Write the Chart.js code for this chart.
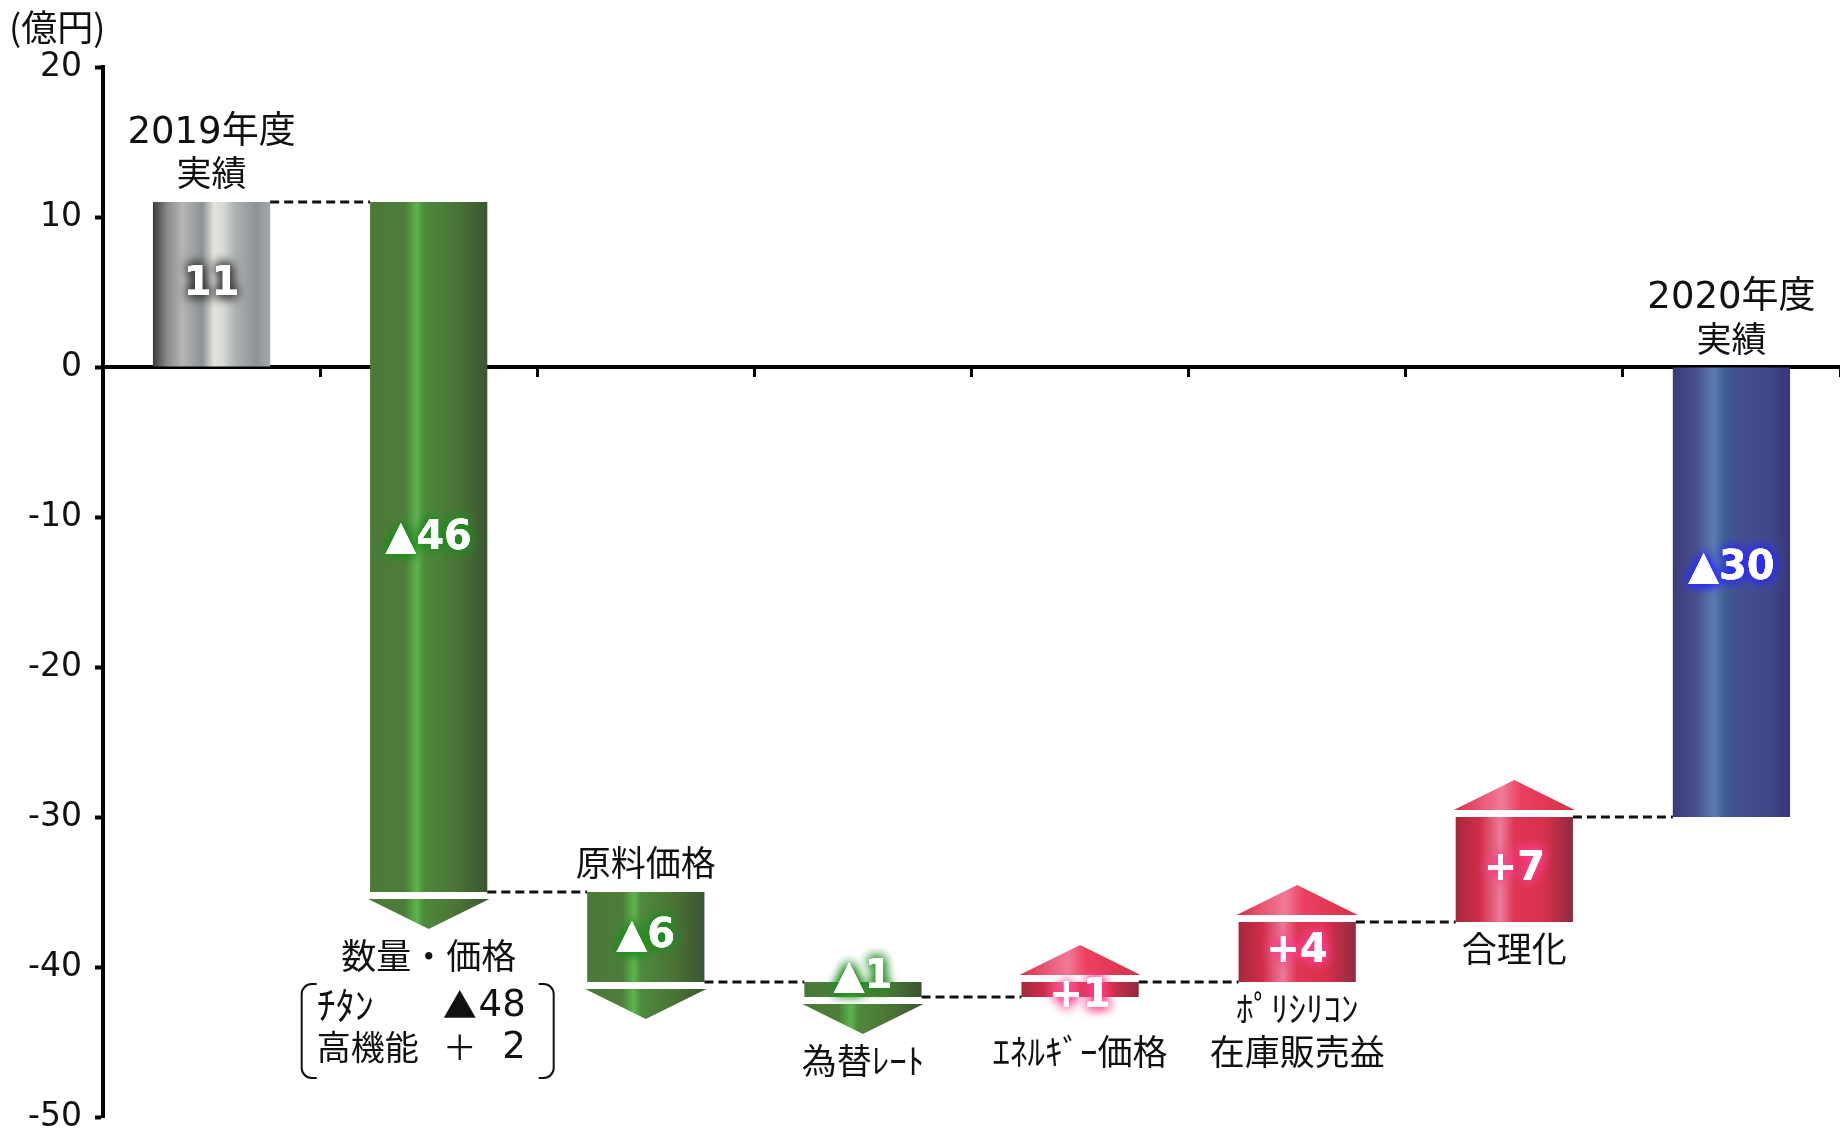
<!DOCTYPE html>
<html lang="ja">
<head>
<meta charset="utf-8">
<title>営業利益 増減要因</title>
<script src="https://cdn.jsdelivr.net/npm/chart.js@4.4.1/dist/chart.umd.min.js"></script>
<style>
  html, body { margin: 0; padding: 0; background: #fff; }
  #wrap { width: 1840px; height: 1129px; position: relative; }
</style>
</head>
<body>
<div id="wrap"><canvas id="grafico"></canvas></div>
<script>
// datos (億円)
const unitLabel = '(億円)';
const categories = [
  ['2019年度', '実績'],
  ['数量・価格'],
  ['原料価格'],
  ['為替ﾚｰﾄ'],
  ['ｴﾈﾙｷﾞｰ価格'],
  ['ﾎﾟﾘｼﾘｺﾝ', '在庫販売益'],
  ['合理化'],
  ['2020年度', '実績']
];
const changes = [11, -46, -6, -1, 1, 4, 7, -30];
const isTotal = [true, false, false, false, false, false, false, true];
const breakdownNames = ['ﾁﾀﾝ', '高機能'];
const breakdownValues = [-48, 2];
const yTicks = [20, 10, 0, -10, -20, -30, -40, -50];

// where each category name sits, and which bar carries the breakdown box
const labelSide = ['above', 'below', 'above', 'below', 'below', 'below', 'below', 'above'];
const labelShift = [0, 0, 0, 0, 28, 0, 0, 0];
const valueShift = [0, -8, 0, -12, 7, 0, 0, -24];
const breakdownIndex = 1;

const BAR_PCT = 0.54;
const ARROW_GAP = 7;
const ARROW_H = 30;

// running totals -> floating bars
let running = 0;
const floating = changes.map((v, i) => {
  if (isTotal[i]) { running = v; return [0, v]; }
  const seg = [running, running + v];
  running += v;
  return seg;
});

const stops = {
  gray: [[0, '#3a3a3a'], [0.12, '#8a8a8a'], [0.25, '#b4b5b5'], [0.42, '#8d9194'], [0.52, '#e4e4de'],
         [0.6, '#d8d9d6'], [0.7, '#aeb2b4'], [0.88, '#8e9296'], [1, '#a5a9ac']],
  green: [[0, '#4b7a38'], [0.3, '#4d7d3a'], [0.4, '#5db54c'], [0.46, '#4e8a3c'], [0.75, '#4a7236'], [1, '#3a5530']],
  red: [[0, '#a52a3c'], [0.2, '#d02c48'], [0.38, '#ec7a96'], [0.5, '#e03456'], [0.75, '#d8304a'], [1, '#8e2a40']],
  blue: [[0, '#3c3a7a'], [0.2, '#475088'], [0.35, '#5a7db0'], [0.45, '#3e5c8e'], [0.55, '#455090'], [0.8, '#40488a'], [1, '#393878']],
  redTip: [[0, '#dc2e48'], [0.4, '#f07a98'], [0.55, '#ec4060'], [1, '#d63048']]
};
const flat = { gray: '#a0a3a5', green: '#4b7a38', red: '#d02c48', blue: '#40488a' };
const glow = { gray: '#333', green: '#1e8c1e', red: '#ff3c8c', blue: '#2828ff' };

function barKind(i) {
  if (isTotal[i]) return i === 0 ? 'gray' : 'blue';
  return changes[i] < 0 ? 'green' : 'red';
}

function makeGradient(ctx, left, right, list) {
  const g = ctx.createLinearGradient(left, 0, right, 0);
  list.forEach(([o, c]) => g.addColorStop(o, c));
  return g;
}

function barFill(context) {
  const chart = context.chart;
  const kind = barKind(context.dataIndex);
  const x = chart.scales && chart.scales.x;
  if (!chart.chartArea || !x) return flat[kind];
  const cx = x.getPixelForValue(context.dataIndex);
  const half = x.width / changes.length * BAR_PCT / 2;
  return makeGradient(chart.ctx, cx - half, cx + half, stops[kind]);
}

function formatValue(i) {
  const v = changes[i];
  if (v < 0) return '▲' + Math.abs(v);
  return isTotal[i] ? String(v) : '+' + v;
}

function drawBracket(ctx, x, top, bottom, dir) {
  const r = 10, tail = 5;
  ctx.beginPath();
  ctx.moveTo(x + dir * (r + tail), top);
  ctx.lineTo(x + dir * r, top);
  ctx.arcTo(x, top, x, top + r, r);
  ctx.lineTo(x, bottom - r);
  ctx.arcTo(x, bottom, x + dir * r, bottom, r);
  ctx.lineTo(x + dir * (r + tail), bottom);
  ctx.stroke();
}

const waterfallDecor = {
  id: 'waterfallDecor',
  afterDraw(chart) {
    const ctx = chart.ctx;
    const meta = chart.getDatasetMeta(0);
    const yScale = chart.scales.y;
    ctx.save();

    // unit
    ctx.fillStyle = '#111';
    ctx.font = '36px "Noto Sans CJK JP", sans-serif';
    ctx.textAlign = 'left';
    ctx.textBaseline = 'middle';
    ctx.fillText(unitLabel, 9, 27);

    // dashed connectors
    ctx.strokeStyle = '#111';
    ctx.lineWidth = 3;
    ctx.setLineDash([9, 5]);
    for (let i = 0; i < meta.data.length - 1; i++) {
      const a = meta.data[i], b = meta.data[i + 1];
      const y = yScale.getPixelForValue(floating[i][1]);
      ctx.beginPath();
      ctx.moveTo(a.x + a.width / 2, y);
      ctx.lineTo(b.x - b.width / 2, y);
      ctx.stroke();
    }
    ctx.setLineDash([]);

    // arrow heads
    meta.data.forEach((bar, i) => {
      if (isTotal[i]) return;
      const top = Math.min(bar.y, bar.base), bottom = Math.max(bar.y, bar.base);
      const half = bar.width / 2 + 2;
      const down = changes[i] < 0;
      const baseY = down ? bottom + ARROW_GAP : top - ARROW_GAP;
      const tipY = down ? baseY + ARROW_H : baseY - ARROW_H;
      ctx.fillStyle = makeGradient(ctx, bar.x - half, bar.x + half, down ? stops.green : stops.redTip);
      ctx.beginPath();
      ctx.moveTo(bar.x - half, baseY);
      ctx.lineTo(bar.x + half, baseY);
      ctx.lineTo(bar.x, tipY);
      ctx.closePath();
      ctx.fill();
    });

    // value labels with glow
    ctx.textAlign = 'center';
    ctx.textBaseline = 'middle';
    ctx.font = 'bold 40px "DejaVu Sans", sans-serif';
    meta.data.forEach((bar, i) => {
      const text = formatValue(i);
      const cy = (bar.y + bar.base) / 2 + valueShift[i];
      ctx.fillStyle = '#fff';
      ctx.shadowColor = glow[barKind(i)];
      ctx.shadowBlur = 12;
      for (let k = 0; k < 3; k++) ctx.fillText(text, bar.x, cy);
      ctx.shadowBlur = 0;
      ctx.shadowColor = 'transparent';
      ctx.fillText(text, bar.x, cy);
    });

    // category names
    ctx.fillStyle = '#111';
    meta.data.forEach((bar, i) => {
      const lines = categories[i];
      const lineGap = isTotal[i] ? 40 : 43;
      const top = Math.min(bar.y, bar.base), bottom = Math.max(bar.y, bar.base);
      let y0;
      if (labelSide[i] === 'above') {
        y0 = top - 29 - (lines.length - 1) * lineGap;
      } else {
        const edge = changes[i] < 0 ? bottom + ARROW_GAP + ARROW_H : bottom;
        y0 = edge + 27 + labelShift[i];
      }
      lines.forEach((t, k) => {
        ctx.font = (isTotal[i] && k === 0)
          ? '37px "DejaVu Sans", "Noto Sans CJK JP", sans-serif'
          : '35px "Noto Sans CJK JP", sans-serif';
        ctx.fillText(t, bar.x, y0 + k * lineGap);
      });

      if (i === breakdownIndex) {
        const left = bar.x - 127, right = bar.x + 125;
        const boxTop = y0 + 28, boxBottom = boxTop + 94;
        ctx.lineWidth = 2;
        ctx.strokeStyle = '#111';
        drawBracket(ctx, left, boxTop, boxBottom, 1);
        drawBracket(ctx, right, boxTop, boxBottom, -1);
        breakdownNames.forEach((name, k) => {
          const ry = boxTop + 21 + k * 42;
          const v = breakdownValues[k];
          ctx.textAlign = 'left';
          ctx.font = (k === 0 ? '38px' : '34px') + ' "Noto Sans CJK JP", sans-serif';
          ctx.fillText(name, left + 15, ry);
          ctx.font = '34px "Noto Sans CJK JP", sans-serif';
          ctx.fillText(v < 0 ? '▲' : '＋', bar.x + 14, ry);
          ctx.textAlign = 'right';
          ctx.font = '37px "DejaVu Sans", sans-serif';
          ctx.fillText(String(Math.abs(v)), bar.x + 97, ry + 1);
          ctx.textAlign = 'center';
        });
      }
    });
    ctx.restore();
  }
};

new Chart(document.getElementById('grafico'), {
  type: 'bar',
  data: {
    labels: categories,
    datasets: [{
      data: floating,
      backgroundColor: barFill,
      borderWidth: 0,
      barPercentage: BAR_PCT,
      categoryPercentage: 1
    }]
  },
  options: {
    responsive: true,
    maintainAspectRatio: false,
    animation: false,
    events: [],
    layout: { padding: { top: 67, bottom: 12, left: 0, right: 0 } },
    plugins: { legend: { display: false }, tooltip: { enabled: false } },
    scales: {
      x: {
        position: { y: 0 },
        z: 1,
        grid: { offset: true, drawOnChartArea: false, drawTicks: true, tickLength: 8, tickWidth: 3, tickColor: '#000' },
        border: { display: true, color: '#000', width: 4 },
        ticks: { display: false }
      },
      y: {
        min: Math.min(...yTicks),
        max: Math.max(...yTicks),
        ticks: {
          stepSize: yTicks[0] - yTicks[1],
          color: '#111',
          padding: 13,
          font: { family: '"DejaVu Sans", sans-serif', size: 33 }
        },
        grid: { drawOnChartArea: false, drawTicks: true, tickLength: 8, tickWidth: 4, tickColor: '#000' },
        border: { display: true, color: '#000', width: 4 },
        afterFit(scale) {
          scale.width = 103;
          scale.paddingTop = 0;
          scale.paddingBottom = 0;
        }
      }
    }
  },
  plugins: [waterfallDecor]
});
</script>
</body>
</html>
